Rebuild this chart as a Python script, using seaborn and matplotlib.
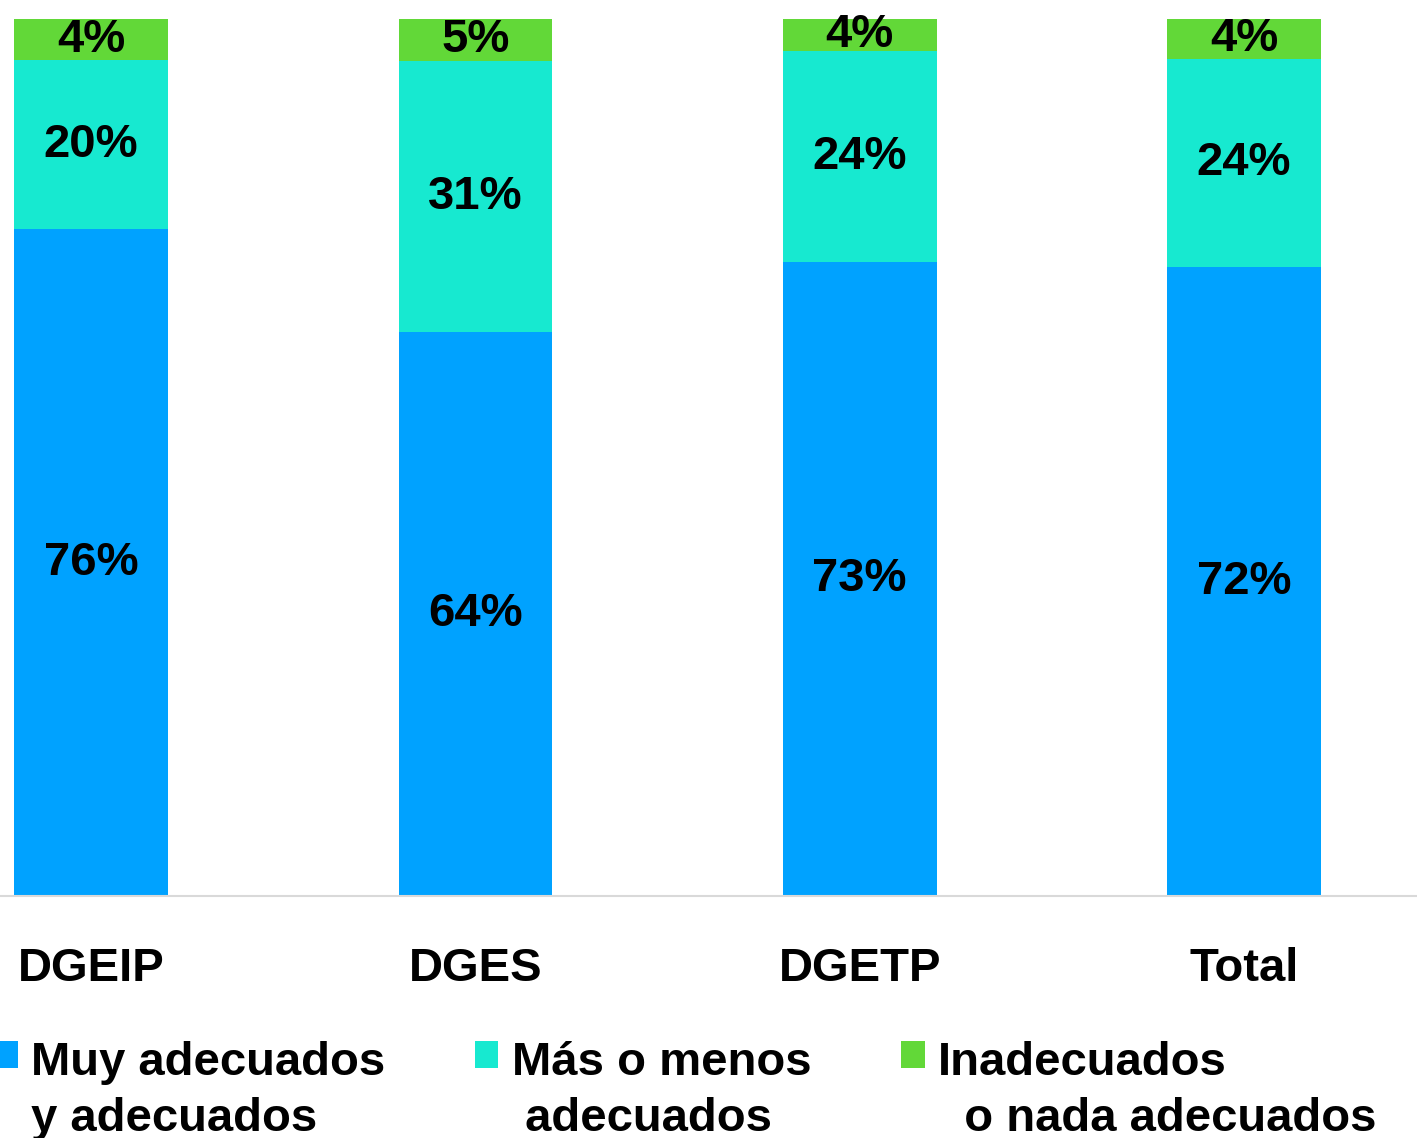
import numpy as np
import pandas as pd
import matplotlib
matplotlib.use("Agg")
import matplotlib.pyplot as plt
import seaborn as sns

# data
categories = ["DGEIP", "DGES", "DGETP", "Total"]
# segment heights (percent of each bar, measured from the bars)
muy_adecuados = [76.0, 64.3, 72.4, 71.7]
mas_o_menos = [19.3, 30.9, 24.0, 23.7]
inadecuados = [4.7, 4.8, 3.7, 4.6]
# printed labels on the segments
muy_labels = ["76%", "64%", "73%", "72%"]
mas_labels = ["20%", "31%", "24%", "24%"]
inad_labels = ["4%", "5%", "4%", "4%"]
series_names = ["Muy adecuados\ny adecuados", "Más o menos\n adecuados", "Inadecuados\n  o nada adecuados"]
colors = ["#00A2FF", "#17E9D0", "#62D838"]

sns.set_theme(style="white")
plt.rcParams["font.family"] = ["Liberation Sans", "DejaVu Sans"]
plt.rcParams["font.weight"] = "bold"
plt.rcParams["text.color"] = "black"

FS = 34

vals = np.array([muy_adecuados, mas_o_menos, inadecuados], dtype=float)
shares = vals / vals.sum(axis=0) * 100  # 100% stacked
cum = np.cumsum(shares, axis=0)
seg_labels = [muy_labels, mas_labels, inad_labels]

df = pd.DataFrame({"cat": categories})
for k in range(3):
    df[f"top{k}"] = cum[k]

fig = plt.figure(figsize=(14.17, 11.38), dpi=100)
ax = fig.add_axes([0, (1138 - 896) / 1138, 1, (896 - 19) / 1138])

# draw from the top segment down so each shorter bar covers the one behind
for k in [2, 1, 0]:
    sns.barplot(data=df, x="cat", y=f"top{k}", color=colors[k], width=0.4,
                saturation=1, ax=ax, label=series_names[k], edgecolor="none")

for i in range(len(categories)):
    bottom = 0
    for k in range(3):
        h = shares[k, i]
        ax.text(i, bottom + h / 2, seg_labels[k][i], ha="center", va="center",
                fontsize=FS, fontweight="bold", color="black")
        bottom += h

ax.set_xlim(-0.237, 3.45)
ax.set_ylim(0, 100)
ax.set_xlabel("")
ax.set_ylabel("")
ax.set_yticks([])
ax.tick_params(axis="x", length=0, pad=37, labelsize=FS, labelcolor="black")
for lbl in ax.get_xticklabels():
    lbl.set_fontweight("bold")
for s in ["top", "right", "left"]:
    ax.spines[s].set_visible(False)
ax.spines["bottom"].set_color("#D9D9D9")
ax.spines["bottom"].set_linewidth(1.5)

handles, labels = ax.get_legend_handles_labels()
order = [labels.index(n) for n in series_names]
leg = ax.legend([handles[j] for j in order], [labels[j] for j in order],
                loc="upper left", bbox_to_anchor=(-6 / 1417, -0.165), ncol=3, frameon=False,
                fontsize=FS, handlelength=0.5, handleheight=0.5, handletextpad=0.28,
                columnspacing=1.9, borderpad=0, borderaxespad=0)
for t in leg.get_texts():
    t.set_color("black")
    t.set_linespacing(1.35)
# put the colour square next to the first line of each label
for col in leg._legend_handle_box.get_children():
    for item in col.get_children():
        item.align = "top"

fig.savefig("out.png", dpi=100)
